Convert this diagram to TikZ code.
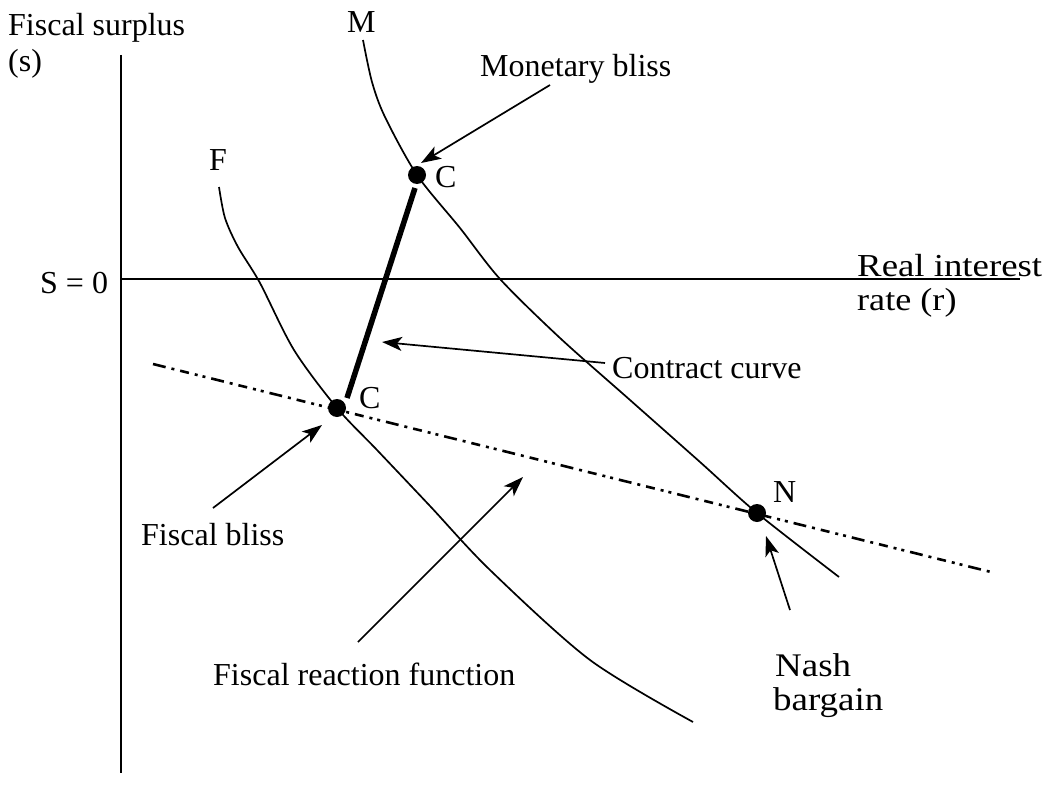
\documentclass[tikz,border=0pt]{standalone}
\usepackage{fontspec}
\setmainfont{Liberation Serif}
\usetikzlibrary{arrows.meta}
\begin{document}
\begin{tikzpicture}[x=1bp,y=-1bp,
  lbl/.style={inner sep=0pt,anchor=base west,font=\fontsize{32bp}{36bp}\selectfont},
  biglbl/.style={inner sep=0pt,anchor=base west,font=\fontsize{33bp}{36bp}\selectfont},
  thin/.style={line width=1.7bp},
  dot/.style={circle,fill=black,inner sep=0pt,minimum size=18bp},
  arr/.style={line width=1.7bp,-{Stealth[length=20bp,width=14bp,inset=5bp]}},
  dashdot/.style={line width=2.6bp,dash pattern=on 13bp off 6bp on 3bp off 6bp on 9bp off 6bp on 3bp off 5bp on 3bp off 6bp}]
\useasboundingbox (0,0) rectangle (1053,803);
% axes
\coordinate (ytop) at (121,55);
\coordinate (ybot) at (121,773);
\coordinate (xl) at (121,279);
\coordinate (xr) at (1020,279);
\draw[thin] (ytop) -- (ybot);
\draw[thin] (xl) -- (xr);
% axis labels
\node[lbl] (ys) at (8,36) {Fiscal surplus};
\node[lbl] (ys2) at (8,72) {(s)};
\node[lbl] (s0) at (40,293) {S = 0};
\node[lbl] (rr) at (857,276) {\scalebox{1.15}[1]{Real interest}};
\node[lbl] (rr2) at (857,310) {\scalebox{1.13}[1]{rate (r)}};
% dots
\node[dot] (C1) at (417,175) {};
\node[dot] (C2) at (337,408) {};
\node[dot] (N) at (757,513) {};
% fiscal reaction line (dash-dot)
\coordinate (fr1) at (153,364);
\coordinate (fr2) at (995,573);
\draw[dashdot] (fr1) -- (fr2);
% M curve
\draw[thin] plot[smooth,tension=0.5] coordinates {(363,40) (372,82) (385,117) (417,175) (460,228) (500,279) (560,338) (630,400) (700,462) (757,513) (839,577)};
% F curve
\draw[thin] plot[smooth,tension=0.5] coordinates {(219,187) (225,218) (238,247) (260,283) (294,350) (337,408) (377,450) (430,506) (490,570) (590,660) (693,722)};
% contract curve
\coordinate (cc1) at (415,188);
\coordinate (cc2) at (347,398);
\draw[line width=5.5bp] (cc1) -- (cc2);
% point labels
\node[lbl] (Mlbl) at (347,33) {M};
\node[lbl] (Flbl) at (209,170) {F};
\node[lbl] (C1lbl) at (435,187) {C};
\node[lbl] (C2lbl) at (359,408) {C};
\node[lbl] (Nlbl) at (773,502) {N};
% text labels
\node[lbl] (mb) at (480,77) {Monetary bliss};
\node[lbl] (cc) at (612,378) {Contract curve};
\node[lbl] (fb) at (141,545) {Fiscal bliss};
\node[lbl] (frf) at (213,685) {Fiscal reaction function};
\node[biglbl] (nash) at (775,676) {\scalebox{1.12}[1]{Nash}};
\node[biglbl] (barg) at (773,710) {\scalebox{1.12}[1]{bargain}};
% arrows
\coordinate (a1s) at (550,85);  \coordinate (a1e) at (421,163);
\coordinate (a2s) at (605,363); \coordinate (a2e) at (382,342);
\coordinate (a3s) at (213,508); \coordinate (a3e) at (322,425);
\coordinate (a4s) at (358,642); \coordinate (a4e) at (523,477);
\coordinate (a5s) at (790,610); \coordinate (a5e) at (766,536);
\draw[arr] (a1s) -- (a1e);
\draw[arr] (a2s) -- (a2e);
\draw[arr] (a3s) -- (a3e);
\draw[arr] (a4s) -- (a4e);
\draw[arr] (a5s) -- (a5e);
\end{tikzpicture}
\end{document}
